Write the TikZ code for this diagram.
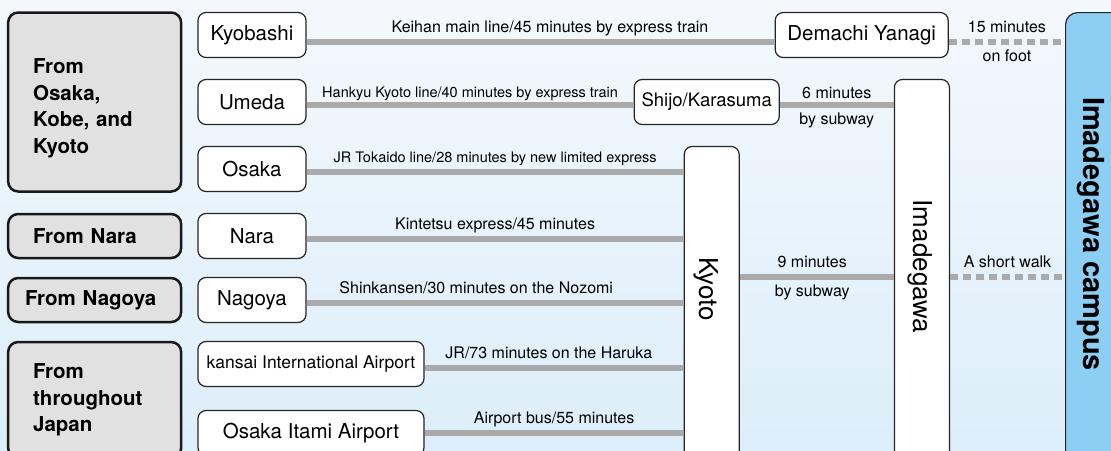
\documentclass[tikz,border=0pt]{standalone}
\usepackage{fontspec}
\setmainfont{TeX Gyre Heros}
\usepackage{tikz}
\usetikzlibrary{positioning}
\definecolor{bgtop}{HTML}{F4F8FC}
\definecolor{bgbot}{HTML}{DCEEFA}
\definecolor{railgray}{HTML}{AAAAAA}
\definecolor{groupgray}{HTML}{E1E1E1}
\definecolor{campusblue}{HTML}{8DCEF4}
\newcommand{\stfont}{\fontsize{20.5}{24}\selectfont}
\newcommand{\grfont}{\fontsize{20.5}{26.5}\selectfont\bfseries}
\newcommand{\lbfont}{\fontsize{16}{19}\selectfont}
\newcommand{\smfont}{\fontsize{14.5}{17}\selectfont}
\newcommand{\hubfont}{\fontsize{26}{30}\selectfont}
\tikzset{
station/.style={draw=black!85, line width=1.2pt, fill=white, rounded corners=8pt,
  minimum width=108pt, minimum height=45pt, inner sep=2pt, font=\stfont},
hub/.style={station, minimum width=55pt},
group/.style={draw=black!90, line width=2.5pt, fill=groupgray, rounded corners=10pt,
  text width=123pt, align=left, inner xsep=25pt, minimum height=44pt, font=\grfont},
rail/.style={draw=railgray, line width=6.5pt},
walk/.style={rail, dash pattern=on 8pt off 5pt},
lbl/.style={font=\lbfont, anchor=base, inner sep=0pt, yshift=10pt},
lblb/.style={font=\lbfont, anchor=base, inner sep=0pt, yshift=-19pt},
}

\begin{document}
\begin{tikzpicture}[x=1pt,y=-1pt]
\useasboundingbox (0,0) rectangle (1111,450);
\clip (0,0) rectangle (1111,450);
\shade[top color=bgtop, bottom color=bgbot] (0,0) rectangle (1111,450);
\coordinate (Sub) at (0,277);
% stations
\node[station] (Kyobashi) at (252,35) {Kyobashi};
\node[station,below=20.8pt of Kyobashi] (Umeda) {Umeda};
\node[station,below=20.8pt of Umeda] (Osaka) {Osaka};
\node[station,below=20.8pt of Osaka] (Nara) {Nara};
\node[station,below=17.8pt of Nara] (Nagoya) {Nagoya};
\node[station,below=17.8pt of Nagoya.south west,anchor=north west,minimum width=226pt,
  font=\fontsize{17.5}{20}\selectfont] (Kansai) {kansai International Airport};
\node[station,below=22.8pt of Kansai.south west,anchor=north west,minimum width=226pt] (Itami) {Osaka Itami Airport};
\node[station,right=468pt of Kyobashi,minimum width=173pt] (Demachi) {Demachi Yanagi};
\node[station,right=327pt of Umeda,minimum width=145pt,
  font=\fontsize{18.5}{22}\selectfont] (Shijo) {Shijo/Karasuma};
\node[hub,right=377pt of Osaka.north east,anchor=north west,minimum height=324pt] (Kyoto) {};
\node[hub,right=114pt of Shijo.north east,anchor=north west,minimum height=391pt] (Imadegawa) {};
\node[station,fill=campusblue,rounded corners=12pt,anchor=north west,
  minimum width=70pt,minimum height=458pt] (Campus) at (1065,12) {};
\node[rotate=-90,font=\hubfont] (KyotoName) at (706.5,289) {Kyoto};
\node[rotate=-90,font=\hubfont] (ImadegawaName) at (920,266.5) {Imadegawa};
\node[rotate=-90,inner sep=0pt,font=\fontsize{29}{33}\selectfont\bfseries] (CampusName) at (1090.5,234) {Imadegawa campus};
% where from
\node[group,left=15pt of Umeda,minimum height=179pt] (FromKansai) {\rule{0pt}{27pt}From\\Osaka,\\Kobe, and\\Kyoto};
\node[group,left=15pt of Nara] (FromNara) {From Nara};
\node[group,left=15pt of Nagoya,inner xsep=17pt,text width=139pt] (FromNagoya) {From Nagoya};
\node[group,below=17.5pt of FromNagoya.south west,anchor=north west,minimum height=116pt] (FromJapan) {From\\throughout\\Japan};
\draw
([yshift=-7pt]Kyobashi.east) edge[rail] node[lbl,pos=.52]{Keihan main line/45 minutes by express train} ([yshift=-7pt]Kyobashi.east -| Demachi.west)
([yshift=-7pt]Demachi.east) edge[walk] node[lbl]{15 minutes} node[lblb]{on foot} ([yshift=-7pt]Demachi.east -| Campus.west)
([yshift=-3pt]Umeda.east) edge[rail] node[lbl,font=\smfont,yshift=-2pt]{Hankyu Kyoto line/40 minutes by express train} ([yshift=-3pt]Umeda.east -| Shijo.west)
([yshift=-3pt]Shijo.east) edge[rail] node[lbl,yshift=-3pt]{6 minutes} node[lblb]{by subway} ([yshift=-3pt]Shijo.east -| Imadegawa.west)
([yshift=-3pt]Osaka.east) edge[rail] node[lbl,font=\smfont]{JR Tokaido line/28 minutes by new limited express} ([yshift=-3pt]Osaka.east -| Kyoto.west)
([yshift=-3pt]Nara.east) edge[rail] node[lbl]{Kintetsu express/45 minutes} ([yshift=-3pt]Nara.east -| Kyoto.west)
([yshift=-3pt]Nagoya.east) edge[rail] node[lbl,pos=.45]{Shinkansen/30 minutes on the Nozomi} ([yshift=-3pt]Nagoya.east -| Kyoto.west)
([yshift=-4pt]Kansai.east) edge[rail] node[lbl,pos=.48]{JR/73 minutes on the Haruka} ([yshift=-4pt]Kansai.east -| Kyoto.west)
(Itami.east) edge[rail] node[lbl]{Airport bus/55 minutes} (Itami.east -| Kyoto.west)
(Kyoto.east |- Sub) edge[rail] node[lbl,pos=.47]{9 minutes} node[lblb,pos=.47]{by subway} (Imadegawa.west |- Sub)
(Imadegawa.east |- Sub) edge[walk] node[lbl]{A short walk} (Campus.west |- Sub)
;
\end{tikzpicture}
\end{document}
